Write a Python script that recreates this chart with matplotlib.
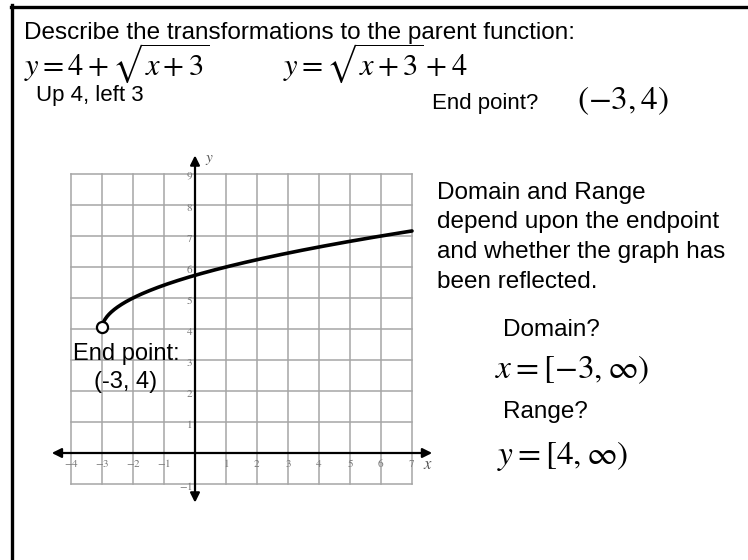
import numpy as np
import matplotlib
matplotlib.use('Agg')
import matplotlib.pyplot as plt
from matplotlib.lines import Line2D

plt.rcParams['font.family'] = ['Liberation Sans', 'DejaVu Sans']
plt.rcParams['mathtext.fontset'] = 'stix'

# graph data
x_ticks = [-4, -3, -2, -1, 1, 2, 3, 4, 5, 6, 7]
y_ticks = [-1, 1, 2, 3, 4, 5, 6, 7, 8, 9]
grid_x = list(range(-4, 8))
grid_y = list(range(-1, 10))
curve_x = np.linspace(-3, 7, 300)
curve_y = 4 + np.sqrt(curve_x + 3)
end_pt = (-3, 4)

W, H = 748, 560
fig = plt.figure(figsize=(7.48, 5.6), dpi=100)

# slide border (top + left)
fig.add_artist(Line2D([11 / W, 1], [1 - 6.5 / H, 1 - 6.5 / H], color='black', lw=2.4))
fig.add_artist(Line2D([12 / W, 12 / W], [0, 1 - 5 / H], color='black', lw=2.4))

# ---- graph axes, placed so 1 unit = 31 px
x0, x1 = -4.65, 7.7
y0, y1 = -1.65, 9.6
px_left = 71 - 0.65 * 31
px_bottom = 107 - 1.65 * 31
ax = fig.add_axes([px_left / W, px_bottom / H, (x1 - x0) * 31 / W, (y1 - y0) * 31 / H])
ax.set_xlim(x0, x1)
ax.set_ylim(y0, y1)
ax.axis('off')

gc = '#a6a6a6'
for gx in grid_x:
    ax.plot([gx, gx], [-1, 9], color=gc, lw=1.1, zorder=1)
for gy in grid_y:
    ax.plot([-4, 7], [gy, gy], color=gc, lw=1.1, zorder=1)

# axes with arrows
ax.annotate('', xy=(7.65, 0), xytext=(-4.62, 0),
            arrowprops=dict(arrowstyle='<|-|>', color='black', lw=1.6,
                            mutation_scale=14, shrinkA=0, shrinkB=0), zorder=3)
ax.annotate('', xy=(0, 9.6), xytext=(0, -1.6),
            arrowprops=dict(arrowstyle='<|-|>', color='black', lw=1.6,
                            mutation_scale=14, shrinkA=0, shrinkB=0), zorder=3)

for t in x_ticks:
    ax.text(t, -0.33, '$' + str(t) + '$', ha='center', va='center',
            fontsize=8, color='#777777', zorder=4)
for t in y_ticks:
    ax.text(-0.07, t - 0.08, '$' + str(t) + '$', ha='right', va='center',
            fontsize=8, color='#777777', zorder=4)
ax.text(7.5, -0.38, '$x$', ha='center', va='center', fontsize=12, color='#555555')
ax.text(0.48, 9.45, '$y$', ha='center', va='center', fontsize=11, color='#555555')

ax.plot(curve_x, curve_y, color='black', lw=2.6, zorder=5, solid_capstyle='round')
ax.plot([end_pt[0]], [end_pt[1] + 0.08], 'o', ms=8, mfc='white', mec='black', mew=1.6, zorder=6)

ax.text(-2.2, 3.2, 'End point:', ha='center', va='center', fontsize=17)
ax.text(-2.25, 2.3, '(-3, 4)', ha='center', va='center', fontsize=17)

# ---- slide text
def ft(xp, yp, s, **kw):
    fig.text(xp / W, 1 - yp / H, s, **kw)

ft(24, 33, 'Describe the transformations to the parent function:', fontsize=17.5, va='center')
ft(24, 63, r'$y=4+\sqrt{x+3}$', fontsize=22, va='center')
ft(283, 63, r'$y=\sqrt{x+3}+4$', fontsize=22, va='center')
ft(36, 95, 'Up 4, left 3', fontsize=16, va='center')
ft(432, 104, 'End point?', fontsize=16, va='center')
ft(577, 101, r'$(-3,4)$', fontsize=24, va='center')

ft(437, 193, 'Domain and Range', fontsize=17.5, va='center')
ft(437, 222, 'depend upon the endpoint', fontsize=17.5, va='center')
ft(437, 252, 'and whether the graph has', fontsize=17.5, va='center')
ft(437, 282, 'been reflected.', fontsize=17.5, va='center')

ft(503, 330, 'Domain?', fontsize=17.5, va='center')
ft(495, 370, r'$x=[-3,\infty)$', fontsize=24, va='center')
ft(503, 412, 'Range?', fontsize=17.5, va='center')
ft(497, 456, r'$y=[4,\infty)$', fontsize=24, va='center')

fig.savefig('out.png', dpi=100)
